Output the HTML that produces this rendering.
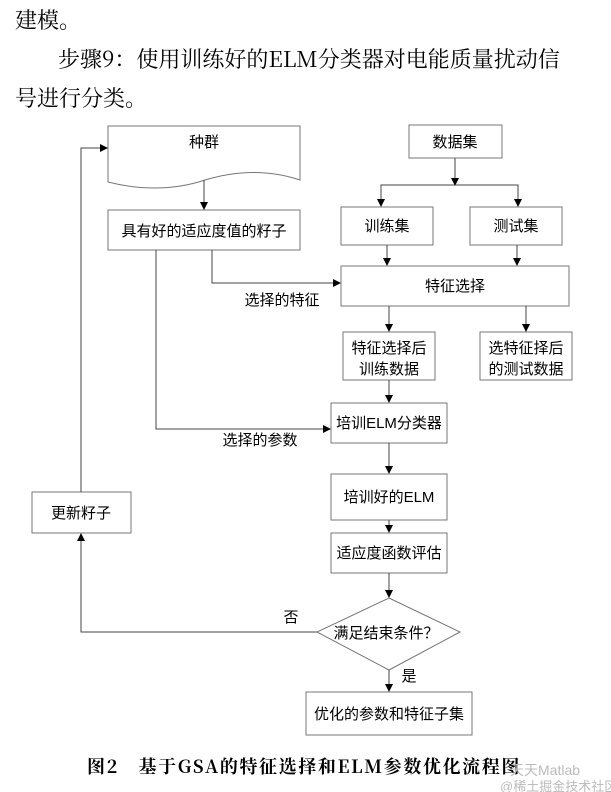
<!DOCTYPE html>
<html><head><meta charset="utf-8"><style>
html,body{margin:0;padding:0;background:#fff;}
svg{display:block;font-family:"Liberation Sans","Noto Sans CJK SC",sans-serif;}
</style></head><body>
<svg width="611" height="792" viewBox="0 0 611 792" xmlns="http://www.w3.org/2000/svg">
<defs><marker id="a" markerWidth="8" markerHeight="8" refX="7" refY="4" orient="auto" markerUnits="userSpaceOnUse"><path d="M0,0 L8,4 L0,8 z" fill="#000"/></marker></defs>
<g font-family="'Noto Serif CJK SC','Liberation Serif',serif" font-size="22" fill="#000">
<text x="15" y="28">建模。</text>
<text x="58" y="67">步骤9：使用训练好的ELM分类器对电能质量扰动信</text>
<text x="15" y="106">号进行分类。</text>
</g>
<g fill="#fff" stroke="#777" stroke-width="1">
<path d="M108,126 H300 V180 Q255,165 205,180 Q160,195 108,182 Z"/>
<rect x="409" y="125" width="93" height="33"/>
<rect x="341" y="207" width="92" height="38"/>
<rect x="470" y="207" width="92" height="38"/>
<rect x="108" y="210" width="192" height="40"/>
<rect x="341" y="266" width="228" height="40"/>
<rect x="343" y="332" width="92" height="48"/>
<rect x="480" y="332" width="92" height="48"/>
<rect x="331" y="403" width="116" height="40"/>
<rect x="331" y="474" width="116" height="46"/>
<rect x="331" y="533" width="116" height="40"/>
<path d="M389,598 L460,632 L389,670 L317,632 Z"/>
<rect x="306" y="692" width="166" height="43"/>
<rect x="32" y="492" width="99" height="41"/>
</g>
<g stroke="#444" stroke-width="1" fill="none" marker-end="url(#a)">
<path d="M204,180 V209"/>
<path d="M455,158 V185"/>
<path d="M455,185 H381 V206"/>
<path d="M455,185 H518 V206"/>
<path d="M387,245 V265"/>
<path d="M517,245 V265"/>
<path d="M389,306 V331"/>
<path d="M526,306 V331"/>
<path d="M389,380 V402"/>
<path d="M389,443 V473"/>
<path d="M389,520 V532"/>
<path d="M389,573 V597"/>
<path d="M389,670 V691"/>
<path d="M212,250 V283 H340"/>
<path d="M156,250 V429 H330"/>
<path d="M317,632 H81 V534"/>
<path d="M81,492 V148 H107"/>
</g>
<g font-size="15" fill="#000" text-anchor="middle">
<text x="204" y="147">种群</text>
<text x="455" y="147">数据集</text>
<text x="387" y="231">训练集</text>
<text x="516" y="231">测试集</text>
<text x="204" y="236">具有好的适应度值的籽子</text>
<text x="455" y="291">特征选择</text>
<text x="389" y="353">特征选择后</text>
<text x="389" y="374">训练数据</text>
<text x="526" y="353">选特征择后</text>
<text x="526" y="374">的测试数据</text>
<text x="389" y="428">培训ELM分类器</text>
<text x="389" y="502">培训好的ELM</text>
<text x="389" y="558">适应度函数评估</text>
<text x="386" y="638">满足结束条件？</text>
<text x="389" y="719">优化的参数和特征子集</text>
<text x="81" y="518">更新籽子</text>
<text x="282" y="305">选择的特征</text>
<text x="260" y="445">选择的参数</text>
<text x="291" y="622">否</text>
<text x="409" y="681">是</text>
</g>
<text x="87" y="773" font-size="18" font-weight="bold" letter-spacing="1.6" font-family="'Noto Serif CJK SC','Liberation Serif',serif">图2　基于GSA的特征选择和ELM参数优化流程图</text>
<text x="510" y="775" font-size="14" fill="#bbb">天天Matlab</text>
<text x="500" y="791" font-size="13" fill="#bbb">@稀土掘金技术社区</text>
</svg>
</body></html>
